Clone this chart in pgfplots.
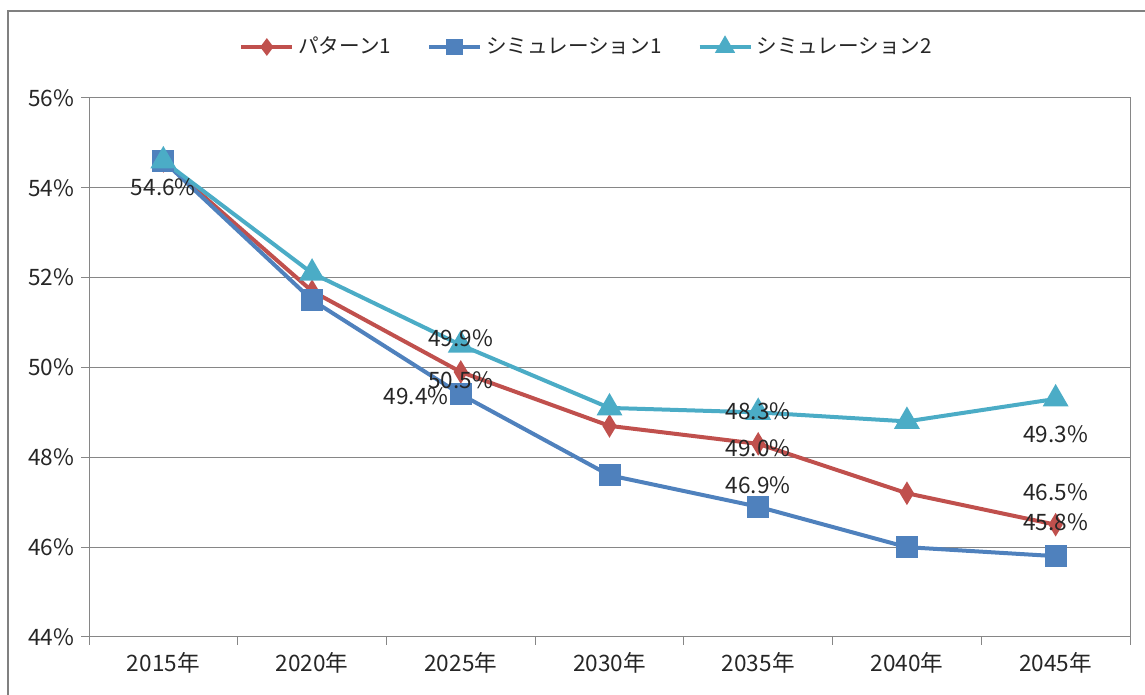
\documentclass[border=0pt]{standalone}
\usepackage{fontspec}
\setmainfont{Noto Sans CJK JP}
\usepackage{pgfplots}
\pgfplotsset{compat=1.18}

\definecolor{serred}{RGB}{192,80,77}
\definecolor{serblue}{RGB}{79,129,189}
\definecolor{sercyan}{RGB}{75,172,198}
\definecolor{axgray}{RGB}{134,134,134}
\definecolor{framegray}{RGB}{128,128,128}

\pgfplotstableread{
x  pat1  sim1  sim2
0  54.6  54.6  54.6
1  51.7  51.5  52.1
2  49.9  49.4  50.5
3  48.7  47.6  49.1
4  48.3  46.9  49.0
5  47.2  46.0  48.8
6  46.5  45.8  49.3
}\rates

\begin{document}
\begin{tikzpicture}
\useasboundingbox (0,0) rectangle (572.5pt,347.5pt);
\clip (0,0) rectangle (572.5pt,347.5pt);
\draw[framegray, line width=1.25pt] (4pt,342pt) rectangle (640pt,-40pt);
\begin{axis}[
    at={(44.5pt,29pt)}, anchor=south west,
    scale only axis,
    width=520.5pt, height=269.5pt,
    xmin=-0.5, xmax=6.5,
    ymin=44, ymax=56,
    xtick={0,...,6},
    xticklabels={2015年,2020年,2025年,2030年,2035年,2040年,2045年},
    minor xtick={-0.5,0.5,...,6.5},
    ytick={44,46,...,56},
    yticklabels={44\%,46\%,48\%,50\%,52\%,54\%,56\%},
    tick align=outside,
    major tick length=4pt,
    minor tick length=4pt,
    every major x tick/.style={draw=none},
    xtick pos=bottom, ytick pos=left,
    ymajorgrids=true,
    grid style={axgray, line width=0.5pt},
    axis line style={axgray, line width=0.5pt},
    tick style={axgray, line width=0.5pt},
    tick label style={font=\fontsize{11.3}{13}\selectfont, text=black!85},
    legend style={at={(0.479,1.0946)}, anchor=center, draw=none,
        font=\fontsize{10.3}{12}\selectfont, text=black!85,
        legend columns=3,
        /tikz/every even column/.append style={column sep=16pt}},
    legend image code/.code={
        \draw[mark repeat=2, mark phase=2, mark options={scale=0.7}]
            plot coordinates {(0pt,0pt) (12.75pt,0pt) (25.5pt,0pt)};
    },
  ]
  \addplot[serred, line width=2pt, mark=diamond*, mark size=4pt,
      mark options={solid, fill=serred, xscale=0.8}]
      table[x=x, y=pat1] {\rates};
  \addlegendentry{パターン1}
  \addplot[serblue, line width=2pt, mark=square*, mark size=4.5pt,
      mark options={solid, fill=serblue}]
      table[x=x, y=sim1] {\rates};
  \addlegendentry{シミュレーション1}
  \addplot[sercyan, line width=2pt, mark=triangle*, mark size=5.5pt,
      mark options={solid, fill=sercyan}]
      table[x=x, y=sim2] {\rates};
  \addlegendentry{シミュレーション2}

  % label anchors; the texts are set after the axis so they lie over the marks
  \coordinate (l1) at (axis cs:0,54.02);
  \coordinate (l2) at (axis cs:2,50.66);
  \coordinate (l3) at (axis cs:2,49.72);
  \coordinate (l4) at (axis cs:1.70,49.37);
  \coordinate (l5) at (axis cs:4,49.03);
  \coordinate (l6) at (axis cs:4,48.21);
  \coordinate (l7) at (axis cs:4,47.38);
  \coordinate (l8) at (axis cs:6,48.52);
  \coordinate (l9) at (axis cs:6,47.23);
  \coordinate (l10) at (axis cs:6,46.56);
\end{axis}
\begin{scope}[every node/.style={font=\fontsize{11.3}{13}\selectfont, text=black!85, inner sep=0pt}]
  \node at (l1) {54.6\%};
  \node at (l2) {49.9\%};
  \node at (l3) {50.5\%};
  \node at (l4) {49.4\%};
  \node at (l5) {48.3\%};
  \node at (l6) {49.0\%};
  \node at (l7) {46.9\%};
  \node at (l8) {49.3\%};
  \node at (l9) {46.5\%};
  \node at (l10) {45.8\%};
\end{scope}
\end{tikzpicture}
\end{document}
